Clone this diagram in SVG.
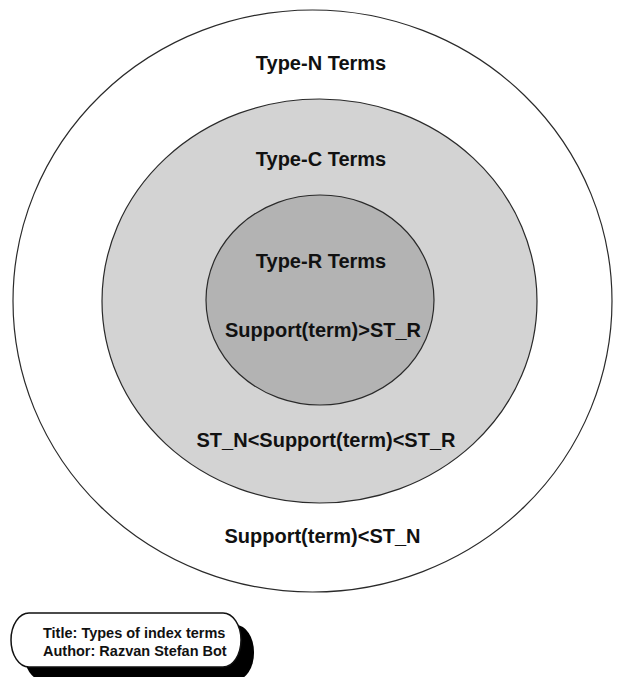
<svg xmlns="http://www.w3.org/2000/svg" width="619" height="677" viewBox="0 0 619 677">
  <style>
    .ring { stroke: #2a2a2a; stroke-width: 1.2; }
    .lbl { font-family: "Liberation Sans", Arial, sans-serif; font-weight: bold; font-size: 20px; fill: #111; text-anchor: middle; }
    .note { font-family: "Liberation Sans", Arial, sans-serif; font-weight: bold; font-size: 14.5px; fill: #111; }
  </style>
  <rect width="619" height="677" fill="#ffffff"/>

  <!-- Nested term sets -->
  <g id="type-n">
    <ellipse class="ring" cx="312.5" cy="301" rx="299.5" ry="291" fill="#ffffff"/>
    <text class="lbl" x="321" y="70">Type-N Terms</text>
    <text class="lbl" x="322.5" y="543">Support(term)&lt;ST_N</text>
  </g>
  <g id="type-c">
    <ellipse class="ring" cx="319.5" cy="301" rx="217.5" ry="202" fill="#d3d3d3"/>
    <text class="lbl" x="321" y="166">Type-C Terms</text>
    <text class="lbl" x="326" y="447" font-size="19.5">ST_N&lt;Support(term)&lt;ST_R</text>
  </g>
  <g id="type-r">
    <ellipse class="ring" cx="320" cy="300" rx="114" ry="105" fill="#b3b3b3"/>
    <text class="lbl" x="321" y="268">Type-R Terms</text>
    <text class="lbl" x="323" y="337">Support(term)&gt;ST_R</text>
  </g>

  <!-- Caption box with drop shadow -->
  <g id="caption">
    <rect x="24" y="625" width="230" height="55" rx="18" ry="27" fill="#000000"/>
    <rect x="11" y="613" width="230" height="54" rx="18" ry="27" fill="#ffffff" stroke="#111" stroke-width="1.5"/>
    <text class="note" x="43" y="638">Title: Types of index terms</text>
    <text class="note" x="43" y="656">Author: Razvan Stefan Bot</text>
  </g>
</svg>
